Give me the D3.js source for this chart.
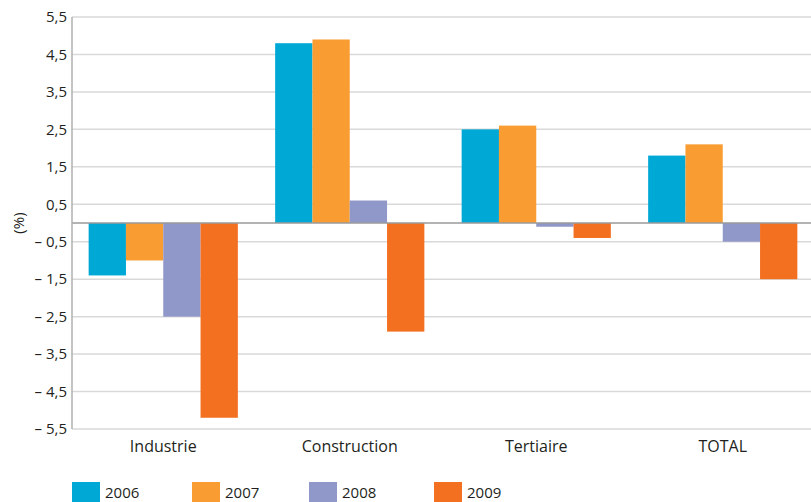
<!DOCTYPE html>
<html>
<head>
<meta charset="utf-8">
<script src="https://cdn.jsdelivr.net/npm/d3@7"></script>
<style>
  body { margin: 0; background: #fff; }
  svg { display: block; }
  text { font-family: "Open Sans", sans-serif; fill: #231f20; }
</style>
</head>
<body>
<svg id="chart" width="811" height="502"></svg>
<script>
// categories and series
var categories = ["Industrie", "Construction", "Tertiaire", "TOTAL"];
var years = ["2006", "2007", "2008", "2009"];
var v2006 = [-1.4, 4.8, 2.5, 1.8];
var v2007 = [-1.0, 4.9, 2.6, 2.1];
var v2008 = [-2.5, 0.6, -0.1, -0.5];
var v2009 = [-5.2, -2.9, -0.4, -1.5];
var tickValues = [5.5, 4.5, 3.5, 2.5, 1.5, 0.5, -0.5, -1.5, -2.5, -3.5, -4.5, -5.5];
var colors = ["#00a8d6", "#f99d33", "#9097c9", "#f37021"];

var series = [v2006, v2007, v2008, v2009];

var svg = d3.select("#chart");

var y = d3.scaleLinear().domain([-5.5, 5.5]).range([429, 17]);

var x = d3.scaleBand()
    .domain(categories)
    .range([70, 816])
    .paddingInner(0.2)
    .paddingOuter(0.1);

var x1 = d3.scaleBand()
    .domain(years)
    .range([0, x.bandwidth()]);

// gridlines
svg.append("g").selectAll("line")
    .data(tickValues)
    .enter().append("line")
    .attr("x1", 72)
    .attr("x2", 811)
    .attr("y1", function (d) { return y(d); })
    .attr("y2", function (d) { return y(d); })
    .style("stroke", "#d9d9d9")
    .style("stroke-width", 1.5);

// y axis labels
svg.append("g").selectAll("text")
    .data(tickValues)
    .enter().append("text")
    .attr("x", 67)
    .attr("y", function (d) { return y(d); })
    .attr("dy", "0.35em")
    .attr("text-anchor", "end")
    .style("font-size", "15px")
    .text(function (d) {
        var s = Math.abs(d).toFixed(1).replace(".", ",");
        return d < 0 ? "\u2013\u00a0" + s : s;
    });

// bars
var rows = [];
categories.forEach(function (c, i) {
    years.forEach(function (yr, j) {
        rows.push({ cat: c, year: yr, value: series[j][i], color: colors[j] });
    });
});

svg.append("g").selectAll("rect")
    .data(rows)
    .enter().append("rect")
    .attr("x", function (d) { return x(d.cat) + x1(d.year); })
    .attr("width", x1.bandwidth())
    .attr("y", function (d) { return y(Math.max(0, d.value)); })
    .attr("height", function (d) { return Math.abs(y(d.value) - y(0)); })
    .style("fill", function (d) { return d.color; });

// zero line and y axis line
svg.append("line")
    .attr("x1", 72).attr("x2", 811)
    .attr("y1", y(0)).attr("y2", y(0))
    .style("stroke", "#9a9a9a")
    .style("stroke-width", 1.5);

svg.append("line")
    .attr("x1", 72).attr("x2", 72)
    .attr("y1", y(5.5)).attr("y2", y(-5.5))
    .style("stroke", "#b0b0b0")
    .style("stroke-width", 1.5);

// category labels
svg.append("g").selectAll("text")
    .data(categories)
    .enter().append("text")
    .attr("x", function (d) { return x(d) + x.bandwidth() / 2; })
    .attr("y", 452)
    .attr("text-anchor", "middle")
    .style("font-size", "16px")
    .text(function (d) { return d; });

// y label
svg.append("text")
    .attr("transform", "translate(24," + y(0) + ") rotate(-90)")
    .attr("text-anchor", "middle")
    .style("font-size", "15px")
    .text("(%)");

// legend
var legendX = [72, 192, 309, 434];
var legend = svg.append("g").selectAll("g")
    .data(years)
    .enter().append("g")
    .attr("transform", function (d, i) { return "translate(" + legendX[i] + ",482)"; });

legend.append("rect")
    .attr("width", 28)
    .attr("height", 22)
    .style("fill", function (d, i) { return colors[i]; });

legend.append("text")
    .attr("x", 33)
    .attr("y", 16)
    .style("font-size", "15px")
    .text(function (d) { return d; });
</script>
</body>
</html>
